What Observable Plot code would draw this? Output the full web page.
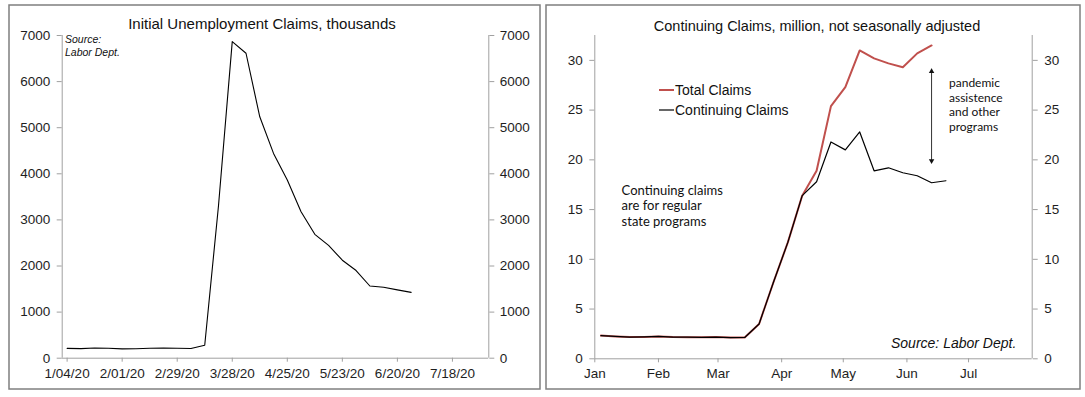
<!DOCTYPE html>
<html><head><meta charset="utf-8">
<script src="https://cdn.jsdelivr.net/npm/d3@7"></script>
<script src="https://cdn.jsdelivr.net/npm/@observablehq/plot@0.6"></script>
<style>
html,body{margin:0;padding:0;background:#fff;}
body{width:1085px;height:397px;position:relative;overflow:hidden;font-family:"Liberation Sans",Arial,sans-serif;}
.chart{position:absolute;}
#overlay{position:absolute;left:0;top:0;pointer-events:none;}
</style></head><body>
<div id="left" class="chart" style="left:9px;top:5px"></div>
<div id="right" class="chart" style="left:546px;top:5px"></div>
<script>
// ---------- Left panel: Initial unemployment claims (thousands) ----------
const initialDates = ["2020-01-04","2020-01-11","2020-01-18","2020-01-25","2020-02-01","2020-02-08","2020-02-15","2020-02-22","2020-02-29","2020-03-07","2020-03-14","2020-03-21","2020-03-28","2020-04-04","2020-04-11","2020-04-18","2020-04-25","2020-05-02","2020-05-09","2020-05-16","2020-05-23","2020-05-30","2020-06-06","2020-06-13","2020-06-20","2020-06-27"];
const initialClaims = [214,207,220,216,202,205,215,219,217,211,282,3307,6867,6615,5237,4442,3867,3176,2687,2446,2126,1901,1566,1540,1482,1427];
const initialXTicks = ["2020-01-04","2020-02-01","2020-02-29","2020-03-28","2020-04-25","2020-05-23","2020-06-20","2020-07-18"];
const initialYTicks = [0,1000,2000,3000,4000,5000,6000,7000];
const initialXDomain = ["2020-01-01T12:00Z","2020-08-05T12:00Z"];
const initialYDomain = [0,7000];

// ---------- Right panel: Continuing claims (million, NSA) ----------
const contDates = ["2020-01-04","2020-01-11","2020-01-18","2020-01-25","2020-02-01","2020-02-08","2020-02-15","2020-02-22","2020-02-29","2020-03-07","2020-03-14","2020-03-21","2020-03-28","2020-04-04","2020-04-11","2020-04-18","2020-04-25","2020-05-02","2020-05-09","2020-05-16","2020-05-23","2020-05-30","2020-06-06","2020-06-13","2020-06-20"];
const continuingClaims = [2.33,2.25,2.18,2.20,2.25,2.18,2.17,2.16,2.18,2.13,2.14,3.50,7.7,11.7,16.4,17.8,21.8,21.0,22.8,18.9,19.2,18.7,18.4,17.7,17.9];
const totalDates = contDates.slice(0,24);
const totalClaims = [2.33,2.25,2.18,2.20,2.25,2.18,2.17,2.16,2.18,2.13,2.14,3.50,7.7,11.7,16.4,18.9,25.4,27.3,31.0,30.2,29.7,29.3,30.7,31.5];
const contXTicks = ["2020-01-01","2020-02-01","2020-03-01","2020-04-01","2020-05-01","2020-06-01","2020-07-01"];
const contYTicks = [0,5,10,15,20,25,30];
const contXDomain = ["2020-01-01","2020-08-01"];
const contYDomain = [0,32.5];
// gap annotation (double arrow) between the two series
const gapArrowDate = "2020-06-13";
const gapArrowTop = 28.9;
const gapArrowBottom = 19.9;

const D = s => new Date(s.length === 10 ? s + "T00:00:00Z" : s);
const axisGray = "#a0a0a0";
const textCol = "#1e1e1e";
const baseStyle = {fontFamily:"'Liberation Sans', Arial, sans-serif", fontSize:"13.5px", color:textCol, background:"transparent", overflow:"visible"};

const leftData = initialDates.map((d,i)=>({date:D(d), value:initialClaims[i]}));
const leftPlot = Plot.plot({
  width:531, height:384,
  marginLeft:52.7, marginRight:51.7, marginTop:30, marginBottom:31.3,
  style:baseStyle,
  x:{type:"utc", domain:initialXDomain.map(D)},
  y:{domain:initialYDomain},
  marks:[
    Plot.ruleX([D(initialXDomain[0]), D(initialXDomain[1])], {stroke:axisGray}),
    Plot.ruleY([0], {stroke:axisGray}),
    Plot.axisY(initialYTicks, {anchor:"left", tickSize:5, tickPadding:7, label:null, stroke:axisGray, fill:textCol, tickFormat:d3.format("d")}),
    Plot.axisY(initialYTicks, {anchor:"right", tickSize:5, tickPadding:6, label:null, stroke:axisGray, fill:textCol, tickFormat:d3.format("d")}),
    Plot.axisX(initialXTicks.map(D), {anchor:"bottom", tickSize:4, tickPadding:6, label:null, stroke:axisGray, fill:textCol, tickFormat:d3.utcFormat("%-m/%d/%y")}),
    Plot.lineY(leftData, {x:"date", y:"value", stroke:"#000", strokeWidth:1.1})
  ]
});
document.getElementById("left").append(leftPlot);

const contData = contDates.map((d,i)=>({date:D(d), value:continuingClaims[i]}));
const totalData = totalDates.map((d,i)=>({date:D(d), value:totalClaims[i]}));
const arrowSpan = [{date:D(gapArrowDate), lo:gapArrowBottom, hi:gapArrowTop}];
const arrowHeads = [
  {date:D(gapArrowDate), y:gapArrowTop, rot:0},
  {date:D(gapArrowDate), y:gapArrowBottom, rot:180}
];
const rightPlot = Plot.plot({
  width:534, height:384,
  marginLeft:48.3, marginRight:48.3, marginTop:30, marginBottom:30.7,
  style:baseStyle,
  x:{type:"utc", domain:contXDomain.map(D)},
  y:{domain:contYDomain},
  marks:[
    Plot.ruleX([D(contXDomain[0]), D(contXDomain[1])], {stroke:axisGray}),
    Plot.ruleY([0], {stroke:axisGray}),
    Plot.axisY(contYTicks, {anchor:"left", tickSize:5, tickPadding:7, label:null, stroke:axisGray, fill:textCol}),
    Plot.axisY(contYTicks, {anchor:"right", tickSize:5, tickPadding:7, label:null, stroke:axisGray, fill:textCol}),
    Plot.axisX(contXTicks.map(D), {anchor:"bottom", tickSize:4, tickPadding:6, label:null, stroke:axisGray, fill:textCol, tickFormat:d3.utcFormat("%b")}),
    Plot.lineY(totalData, {x:"date", y:"value", stroke:"#c0504d", strokeWidth:2}),
    Plot.lineY(contData, {x:"date", y:"value", stroke:"#000", strokeWidth:1.2}),
    Plot.ruleX(arrowSpan, {x:"date", y1:"lo", y2:"hi", stroke:"#333", strokeWidth:1, insetTop:2, insetBottom:2}),
    Plot.dot(arrowHeads, {x:"date", y:"y", symbol:"triangle2", r:2.6, fill:"#111", stroke:"none", rotate:"rot"})
  ]
});
document.getElementById("right").append(rightPlot);

// ---------- Overlay: frames, titles, legend, notes ----------
const svg = d3.select("body").append("svg").attr("id","overlay").attr("width",1085).attr("height",397);
svg.append("rect").attr("x",9).attr("y",5).attr("width",531).attr("height",384).attr("fill","none").attr("stroke","#7f7f7f").attr("stroke-width",1.5);
svg.append("rect").attr("x",546).attr("y",5).attr("width",534).attr("height",384).attr("fill","none").attr("stroke","#7f7f7f").attr("stroke-width",1.5);

const arial = "'Liberation Sans', Arial, sans-serif";
const calib = "Lato, 'Open Sans', sans-serif";
function txt(x,y,s,opts={}){
  return svg.append("text").attr("x",x).attr("y",y).text(s)
    .attr("font-family",opts.family||arial).attr("font-size",opts.size||14)
    .attr("font-style",opts.italic?"italic":"normal")
    .attr("text-anchor",opts.anchor||"start").attr("fill",opts.fill||"#111");
}
txt(262,29,"Initial Unemployment Claims, thousands",{anchor:"middle",size:15});
txt(817,30.5,"Continuing Claims, million, not seasonally adjusted",{anchor:"middle",size:14.5});

txt(65,43,"Source:",{italic:true,size:10.5});
txt(65,55.5,"Labor Dept.",{italic:true,size:10.5});

// legend
svg.append("line").attr("x1",659).attr("x2",674).attr("y1",90).attr("y2",90).attr("stroke","#c0504d").attr("stroke-width",2);
txt(675,95,"Total Claims",{size:14});
svg.append("line").attr("x1",659).attr("x2",674).attr("y1",110).attr("y2",110).attr("stroke","#000").attr("stroke-width",1.2);
txt(675,115,"Continuing Claims",{size:14});

// annotations
["pandemic","assistence","and other","programs"].forEach((s,i)=>txt(949,87.3+i*14.4,s,{family:calib,size:12}));
["Continuing claims","are for regular","state programs"].forEach((s,i)=>txt(621.6,194.5+i*15.5,s,{family:calib,size:13}));
txt(891,348,"Source: Labor Dept.",{italic:true,size:14});
</script>
</body></html>
